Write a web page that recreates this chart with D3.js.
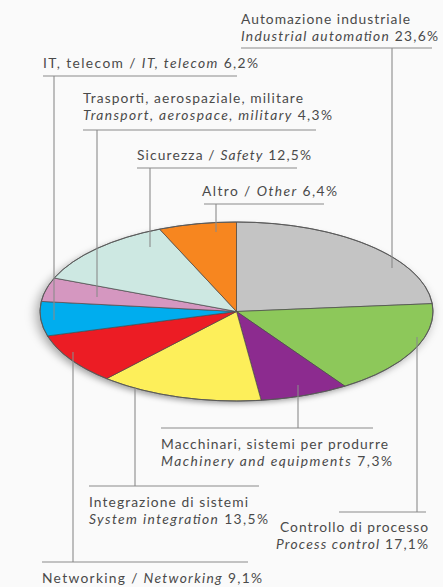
<!DOCTYPE html>
<html>
<head>
<meta charset="utf-8">
<script src="https://cdn.jsdelivr.net/npm/d3@7"></script>
<style>
  html, body { margin: 0; padding: 0; background: #fafafa; }
  svg { display: block; }
  text { font-family: Lato, "Open Sans", "DejaVu Sans", sans-serif; fill: #4a4a4a; }
</style>
</head>
<body>
<svg id="chart" width="443" height="587"></svg>
<script>
// ---- data ----
const categoriesIt = ["Automazione industriale", "Controllo di processo", "Macchinari, sistemi per produrre",
  "Integrazione di sistemi", "Networking", "IT, telecom", "Trasporti, aerospaziale, militare",
  "Sicurezza", "Altro"];
const categoriesEn = ["Industrial automation", "Process control", "Machinery and equipments",
  "System integration", "Networking", "IT, telecom", "Transport, aerospace, military",
  "Safety", "Other"];
const values = [23.6, 17.1, 7.3, 13.5, 9.1, 6.2, 4.3, 12.5, 6.4];
const colors = ["#c4c4c4", "#8dc85a", "#8c2b8f", "#fdef5a", "#ec1c24", "#00adee", "#d597c0", "#cde8e2", "#f7861f"];

// ---- layout (label placement) ----
// mode: 2 = two lines (It / En value), 1 = single line "It / En value"
// w1, w2: rendered widths of the label lines
const labelLayout = [
  {mode: 2, x: 241, y: 24, anchor: "start", w1: 169, w2: 197, ux1: 241, ux2: 432, uy: 48, lx: 392, ly: 268},
  {mode: 2, x: 428, y: 532, anchor: "end", w1: 148, w2: 152, ux1: 339, ux2: 426, uy: 512, lx: 417, ly: 337},
  {mode: 2, x: 161, y: 449, anchor: "start", w1: 227, w2: 231, ux1: 161, ux2: 373, uy: 428, lx: 298, ly: 385},
  {mode: 2, x: 89, y: 507, anchor: "start", w1: 159, w2: 179, ux1: 89, ux2: 259, uy: 486, lx: 135, ly: 388},
  {mode: 1, x: 42, y: 583, anchor: "start", w1: 220, ux1: 42, ux2: 248, uy: 562, lx: 73, ly: 352},
  {mode: 1, x: 43, y: 68, anchor: "start", w1: 215, ux1: 43, ux2: 237, uy: 76, lx: 54, ly: 320},
  {mode: 2, x: 83, y: 103, anchor: "start", w1: 220, w2: 249, ux1: 83, ux2: 316, uy: 130, lx: 97, ly: 297},
  {mode: 1, x: 137, y: 160, anchor: "start", w1: 174, ux1: 137, ux2: 297, uy: 168, lx: 150, ly: 247},
  {mode: 1, x: 202, y: 196, anchor: "start", w1: 135, ux1: 204, ux2: 324, uy: 204, lx: 216, ly: 232}
];

const svg = d3.select("#chart");
const cx = 236.5, cy = 311.5, rx = 196.5, ry = 89.5;
const fmt = v => d3.format(".1f")(v).replace(".", ",") + "%";

const defs = svg.append("defs");
const f = defs.append("filter").attr("id", "shadow").attr("x", "-20%").attr("y", "-30%").attr("width", "140%").attr("height", "170%");
f.append("feDropShadow").attr("dx", -3).attr("dy", 6).attr("stdDeviation", 6)
  .attr("flood-color", "#000").attr("flood-opacity", 0.35);

const pie = d3.pie().sort(null).value(d => d)(values);
const arc = d3.arc().innerRadius(0).outerRadius(rx);

const g = svg.append("g").attr("transform", `translate(${cx},${cy}) scale(1,${ry / rx})`);
g.append("ellipse").attr("cx", 0).attr("cy", 0).attr("rx", rx).attr("ry", rx)
  .attr("fill", "#bbb").attr("filter", "url(#shadow)");
g.selectAll("path.slice").data(pie).join("path")
  .attr("class", "slice")
  .attr("d", arc)
  .attr("fill", (d, i) => colors[i])
  .attr("stroke", "#4a4a4a")
  .attr("stroke-width", 0.7)
  .attr("vector-effect", "non-scaling-stroke");
g.append("ellipse").attr("cx", 0).attr("cy", 0).attr("rx", rx).attr("ry", rx)
  .attr("fill", "none").attr("stroke", "#5a5a5a").attr("stroke-width", 1)
  .attr("vector-effect", "non-scaling-stroke");

// leaders and underlines
const lines = svg.append("g").attr("stroke", "#8a8a8a").attr("stroke-width", 1.1).attr("fill", "none");
labelLayout.forEach((L, i) => {
  lines.append("line").attr("x1", L.ux1).attr("x2", L.ux2).attr("y1", L.uy).attr("y2", L.uy);
  lines.append("line").attr("x1", L.lx).attr("x2", L.lx).attr("y1", L.uy).attr("y2", L.ly);
});

// texts
const fs = 13.8, lh = 16.7;
function fit(t, w) {
  t.attr("textLength", w).attr("lengthAdjust", "spacing");
}
labelLayout.forEach((L, i) => {
  if (L.mode === 2) {
    const t1 = svg.append("text").attr("x", L.x).attr("y", L.y).attr("text-anchor", L.anchor)
      .attr("font-size", fs).text(categoriesIt[i]);
    fit(t1, L.w1);
    const t = svg.append("text").attr("x", L.x).attr("y", L.y + lh).attr("text-anchor", L.anchor)
      .attr("font-size", fs);
    t.append("tspan").attr("font-style", "italic").text(categoriesEn[i]);
    t.append("tspan").text(" " + fmt(values[i]));
    fit(t, L.w2);
  } else {
    const t = svg.append("text").attr("x", L.x).attr("y", L.y).attr("text-anchor", L.anchor)
      .attr("font-size", fs);
    t.append("tspan").text(categoriesIt[i] + " / ");
    t.append("tspan").attr("font-style", "italic").text(categoriesEn[i]);
    t.append("tspan").text(" " + fmt(values[i]));
    fit(t, L.w1);
  }
});
</script>
</body>
</html>
